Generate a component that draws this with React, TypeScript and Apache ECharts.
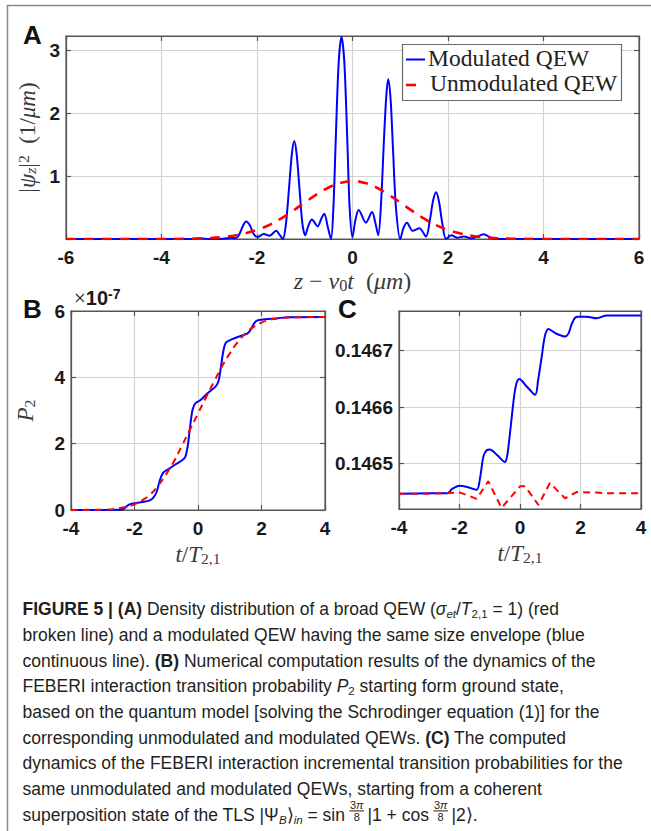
import React, { useEffect, useRef } from 'react';
import * as echarts from 'echarts';

// ---------- data ----------
// Panel A: density |psi_z|^2 vs z - v0 t
const blueA: [number, number][] = [
  [-6, 0], [-4, 0], [-3.4, 0], [-3.2, 0.012], [-3.0, 0], [-2.7, 0.005], [-2.55, 0.02], [-2.45, 0.01],
  [-2.38, 0.06], [-2.3, 0.2], [-2.23, 0.28], [-2.15, 0.22], [-2.07, 0.08], [-1.99, 0.03], [-1.86, 0.08],
  [-1.74, 0.05], [-1.6, 0.13], [-1.52, 0.06], [-1.46, 0.0], [-1.4, 0.2], [-1.33, 0.8], [-1.27, 1.35],
  [-1.22, 1.56], [-1.17, 1.35], [-1.11, 0.8], [-1.05, 0.25], [-0.99, 0.06], [-0.92, 0.22], [-0.85, 0.31],
  [-0.73, 0.2], [-0.65, 0.33], [-0.59, 0.4], [-0.52, 0.2], [-0.45, 0.0], [-0.4, 0.5], [-0.35, 1.6],
  [-0.29, 2.8], [-0.23, 3.22], [-0.17, 2.8], [-0.11, 1.6], [-0.06, 0.5], [0, 0.03], [0.06, 0.3],
  [0.13, 0.46], [0.28, 0.26], [0.41, 0.43], [0.48, 0.25], [0.54, 0.06], [0.6, 0.6], [0.66, 1.6],
  [0.71, 2.3], [0.75, 2.54], [0.8, 2.2], [0.85, 1.4], [0.91, 0.5], [1.0, 0.0], [1.07, 0.18], [1.14, 0.26],
  [1.26, 0.13], [1.4, 0.17], [1.54, 0.04], [1.62, 0.3], [1.69, 0.62], [1.75, 0.745], [1.81, 0.6],
  [1.88, 0.25], [1.96, 0.0], [2.07, 0.06], [2.19, 0.02], [2.33, 0.04], [2.5, 0.01], [2.62, 0.04],
  [2.75, 0.075], [2.87, 0.03], [2.97, 0.0], [4, 0], [6, 0],
];
const redA: [number, number][] = [
  [-6, 0], [-4, 0], [-3.5, 0.002], [-3.25, 0.007], [-3, 0.014], [-2.75, 0.028], [-2.5, 0.051],
  [-2.25, 0.089], [-2, 0.145], [-1.75, 0.22], [-1.5, 0.325], [-1.25, 0.447], [-1, 0.58], [-0.75, 0.709],
  [-0.5, 0.82], [-0.25, 0.894], [0, 0.92], [0.25, 0.894], [0.5, 0.82], [0.75, 0.709], [1, 0.58],
  [1.25, 0.447], [1.5, 0.325], [1.75, 0.22], [2, 0.145], [2.25, 0.089], [2.5, 0.051], [2.75, 0.028],
  [3, 0.014], [3.25, 0.007], [3.5, 0.002], [4, 0], [6, 0],
];
// Panel B: P2 (units of 1e-7) vs t/T21
const blueB: [number, number][] = [
  [-4, 0], [-3, 0], [-2.5, 0.01], [-2.35, 0.03], [-2.2, 0.15], [-2.05, 0.2], [-1.75, 0.24], [-1.5, 0.3],
  [-1.4, 0.38], [-1.3, 0.55], [-1.2, 0.9], [-1.1, 1.12], [-0.95, 1.22], [-0.7, 1.38], [-0.5, 1.5],
  [-0.4, 1.6], [-0.32, 1.95], [-0.25, 2.5], [-0.17, 3.03], [-0.08, 3.22], [0.06, 3.3], [0.3, 3.52],
  [0.55, 3.72], [0.65, 3.9], [0.72, 4.3], [0.8, 4.8], [0.88, 5.05], [1.1, 5.16], [1.35, 5.25],
  [1.55, 5.32], [1.65, 5.42], [1.75, 5.6], [1.85, 5.71], [2.1, 5.75], [2.5, 5.78], [2.8, 5.81], [4, 5.82],
];
const redB: [number, number][] = [
  [-4, 0], [-3, 0.01], [-2.5, 0.05], [-2.25, 0.1], [-2, 0.17], [-1.75, 0.3], [-1.5, 0.47], [-1.25, 0.74],
  [-1, 1.08], [-0.75, 1.48], [-0.5, 1.95], [-0.25, 2.43], [0, 2.91], [0.25, 3.39], [0.5, 3.86],
  [0.75, 4.32], [1, 4.72], [1.25, 5.06], [1.5, 5.33], [1.75, 5.52], [2, 5.65], [2.25, 5.73], [2.5, 5.77],
  [3, 5.81], [4, 5.82],
];
// Panel C: incremental probability vs t/T21
const blueC: [number, number][] = [
  [-4, 0.146447], [-3, 0.146448], [-2.4, 0.146448], [-2.25, 0.146455], [-2.0, 0.146461], [-1.75, 0.146459],
  [-1.43, 0.146454], [-1.32, 0.146475], [-1.21, 0.146513], [-1.1, 0.146524], [-1.0, 0.146525],
  [-0.75, 0.146515], [-0.5, 0.146503], [-0.42, 0.146515], [-0.35, 0.146545], [-0.27, 0.146584],
  [-0.18, 0.146625], [-0.1, 0.146645], [-0.02, 0.14665], [0.2, 0.146638], [0.5, 0.146622], [0.6, 0.146648],
  [0.72, 0.14669], [0.82, 0.146725], [0.94, 0.146738], [1.2, 0.14673], [1.49, 0.146725], [1.6, 0.14673],
  [1.71, 0.146747], [1.82, 0.146758], [1.93, 0.14676], [2.2, 0.14676], [2.53, 0.146757], [2.87, 0.146762],
  [3.2, 0.146762], [4, 0.146762],
];
const redC: [number, number][] = [
  [-4, 0.146447], [-3, 0.146447], [-2.5, 0.146448], [-1.98, 0.146449], [-1.43, 0.146438], [-1.05, 0.146469],
  [-0.61, 0.146422], [0, 0.14646], [0.17, 0.14646], [0.61, 0.146427], [0.99, 0.146466], [1.49, 0.146439],
  [1.87, 0.14645], [2.5, 0.146449], [2.8, 0.146448], [4, 0.146448],
];
const cTicks = [0.1465, 0.1466, 0.1467];

const legendNames = ['Modulated QEW', 'Unmodulated QEW'];

const captionLines = [
  '{b|FIGURE 5 | (A)} Density distribution of a broad QEW ({i|σ}{subi|et}/{i|T}{sub|2,1} = 1) (red',
  'broken line) and a modulated QEW having the same size envelope (blue',
  'continuous line). {b|(B)} Numerical computation results of the dynamics of the',
  'FEBERI interaction transition probability {i|P}{sub|2} starting form ground state,',
  'based on the quantum model [solving the Schrodinger equation (1)] for the',
  'corresponding unmodulated and modulated QEWs. {b|(C)} The computed',
  'dynamics of the FEBERI interaction incremental transition probabilities for the',
  'same unmodulated and modulated QEWs, starting from a coherent',
];

// ---------- styles ----------
const SANS = '"Liberation Sans", Arial, Helvetica, sans-serif';
const SERIF = '"Liberation Serif", "Times New Roman", serif';
const BLUE = '#0000ff';
const RED = '#ff0000';
const AXIS = '#555555';
const GRID = '#d2d2d2';
const NAME = '#3a3a3a';
const CAP = '#231f20';
const CAP_SIZE = 17.5;

const tickLabel = { fontFamily: SANS, fontWeight: 'bold' as const, fontSize: 19, color: '#1a1a1a' };

function nameStyle(size: number) {
  return {
    fontFamily: SERIF, fontSize: size, color: NAME, lineHeight: size,
    rich: {
      i: { fontFamily: SERIF, fontStyle: 'italic', fontSize: size, color: NAME, lineHeight: size },
      s: { fontFamily: SERIF, fontSize: size * 0.68, color: NAME, lineHeight: 10, verticalAlign: 'bottom' },
      si: { fontFamily: SERIF, fontStyle: 'italic', fontSize: size * 0.68, color: NAME, lineHeight: 10, verticalAlign: 'bottom' },
      sp: { fontFamily: SERIF, fontSize: size * 0.68, color: NAME, lineHeight: 10, verticalAlign: 'top' },
    },
  };
}

function axisLine() {
  return { show: true, onZero: false, lineStyle: { color: AXIS, width: 1.2 } };
}
function splitLine() {
  return { show: true, lineStyle: { color: GRID, width: 1.2, type: 'solid' } };
}

function xPair(grid: number, min: number, max: number, interval: number, name: string, gap: number, nameSize: number) {
  const tick = () => ({ show: true, inside: true, length: 5, lineStyle: { color: AXIS, width: 1.2 } });
  return [
    {
      type: 'value', gridIndex: grid, position: 'bottom', min, max, interval,
      axisLine: axisLine(), axisTick: tick(),
      axisLabel: { ...tickLabel, margin: 9 },
      splitLine: splitLine(),
      name, nameLocation: 'middle', nameGap: gap, nameTextStyle: nameStyle(nameSize),
    },
    {
      type: 'value', gridIndex: grid, position: 'top', min, max, interval,
      axisLine: axisLine(), axisTick: tick(), axisLabel: { show: false }, splitLine: { show: false },
    },
  ];
}

function yPair(grid: number, base: any, label: any, name: string, gap: number, nameSize: number) {
  const { customValues, ...rest } = base;
  const tick = () => ({ show: true, inside: true, length: 5, lineStyle: { color: AXIS, width: 1.2 }, ...(customValues ? { customValues } : {}) });
  return [
    {
      type: 'value', gridIndex: grid, position: 'left', ...rest,
      axisLine: axisLine(), axisTick: tick(),
      axisLabel: { ...tickLabel, margin: 6, ...label },
      splitLine: splitLine(),
      name, nameLocation: 'middle', nameGap: gap, nameRotate: 90, nameTextStyle: nameStyle(nameSize),
    },
    {
      type: 'value', gridIndex: grid, position: 'right', ...rest,
      axisLine: axisLine(), axisTick: tick(), axisLabel: { show: false }, splitLine: { show: false },
    },
  ];
}

function measure(text: string, font: string) {
  const ctx = document.createElement('canvas').getContext('2d')!;
  ctx.font = font;
  return ctx.measureText(text).width;
}

function buildCaption() {
  const rich = {
    b: { fontFamily: SANS, fontSize: CAP_SIZE, fontWeight: 'bold', fill: CAP, color: CAP, lineHeight: 22 },
    i: { fontFamily: SANS, fontSize: CAP_SIZE, fontStyle: 'italic', fill: CAP, color: CAP, lineHeight: 22 },
    sub: { fontFamily: SANS, fontSize: 11.5, fill: CAP, color: CAP, lineHeight: 12, verticalAlign: 'bottom' },
    subi: { fontFamily: SANS, fontSize: 11.5, fontStyle: 'italic', fill: CAP, color: CAP, lineHeight: 12, verticalAlign: 'bottom' },
  };
  const x0 = 22.5;
  const base0 = 615.3;
  const step = 25.7;
  const dy = 0.35 * CAP_SIZE;
  const els: any[] = captionLines.map((t, k) => ({
    type: 'text', x: x0, y: base0 + k * step - dy, z: 100,
    style: { text: t, rich, fontFamily: SANS, fontSize: CAP_SIZE, fill: CAP, align: 'left', verticalAlign: 'middle', lineHeight: 22 },
  }));
  // last line with stacked fractions
  const b9 = base0 + 8 * step;
  const fBase = `${CAP_SIZE}px "Liberation Sans"`;
  const fSubI = `italic 11.5px "Liberation Sans"`;
  const fFrac = `11px "Liberation Sans"`;
  const fFracI = `italic 11px "Liberation Sans"`;
  const w1 = measure('superposition state of the TLS |Ψ', fBase) + measure('B', fSubI) + measure('⟩', fBase)
    + measure('in', fSubI) + measure(' = sin', fBase);
  const fw = measure('3', fFrac) + measure('π', fFracI);
  const w2 = measure('|1 + cos', fBase);
  const fx1 = x0 + w1 + 5;
  const s2 = fx1 + fw + 4;
  const fx2 = s2 + w2 + 5;
  const s3 = fx2 + fw + 4;
  const baseStyle = { rich, fontFamily: SANS, fontSize: CAP_SIZE, fill: CAP, align: 'left', verticalAlign: 'middle', lineHeight: 22 };
  els.push({ type: 'text', x: x0, y: b9 - dy, z: 100, style: { ...baseStyle, text: 'superposition state of the TLS |Ψ{subi|B}⟩{subi|in} = sin' } });
  els.push({ type: 'text', x: s2, y: b9 - dy, z: 100, style: { ...baseStyle, text: '|1 + cos' } });
  els.push({ type: 'text', x: s3, y: b9 - dy, z: 100, style: { ...baseStyle, text: '|2⟩.' } });
  const fracRich = { pi: { fontFamily: SANS, fontSize: 11, fontStyle: 'italic', fill: CAP, color: CAP } };
  [fx1, fx2].forEach((fx) => {
    els.push({ type: 'text', x: fx + fw / 2, y: b9 - 15.5, z: 100, style: { text: '3{pi|π}', rich: fracRich, fontFamily: SANS, fontSize: 11, fill: CAP, align: 'center', verticalAlign: 'middle' } });
    els.push({ type: 'text', x: fx + fw / 2, y: b9 - 4, z: 100, style: { text: '8', fontFamily: SANS, fontSize: 11, fill: CAP, align: 'center', verticalAlign: 'middle' } });
    els.push({ type: 'line', z: 100, shape: { x1: fx - 0.5, y1: b9 - 10, x2: fx + fw + 0.5, y2: b9 - 10 }, style: { stroke: CAP, lineWidth: 1 } });
  });
  return els;
}

function buildOption() {
  const xAxis = [
    ...xPair(0, -6, 6, 2, '{i|z} − {i|v}{s|0}{i|t}  ({i|μm})', 30, 24),
    ...xPair(1, -4, 4, 2, '{i|t}/{i|T}{s|2,1}', 33, 23),
    ...xPair(2, -4, 4, 2, '{i|t}/{i|T}{s|2,1}', 33, 23),
  ];
  const yAxis = [
    ...yPair(0, { min: 0, max: 3.23, interval: 1 },
      { formatter: (v: number) => (v > 0 && Math.abs(v - Math.round(v)) < 1e-9 ? String(v) : '') },
      '|{i|ψ}{si|z}|{sp|2}  (1/{i|μm})', 22, 23),
    ...yPair(1, { min: 0, max: 6, interval: 2 }, {}, '{i|P}{s|2}', 34, 23),
    ...yPair(2, { min: 0.14642, max: 0.14677, customValues: cTicks },
      { customValues: cTicks, formatter: (v: number) => v.toFixed(4) }, '', 0, 22),
  ];
  const lineCommon = { type: 'line', showSymbol: false, symbol: 'none', silent: true };
  const series = [
    { ...lineCommon, name: legendNames[0], xAxisIndex: 0, yAxisIndex: 0, data: blueA, smooth: 0.3, lineStyle: { color: BLUE, width: 2 }, z: 3 },
    { ...lineCommon, name: legendNames[1], xAxisIndex: 0, yAxisIndex: 0, data: redA, smooth: true, lineStyle: { color: RED, width: 2.6, type: [10, 8] }, z: 4 },
    { ...lineCommon, name: legendNames[0], xAxisIndex: 2, yAxisIndex: 2, data: blueB, smooth: 0.3, lineStyle: { color: BLUE, width: 2 }, z: 3 },
    { ...lineCommon, name: legendNames[1], xAxisIndex: 2, yAxisIndex: 2, data: redB, smooth: true, lineStyle: { color: RED, width: 2, type: [7, 5] }, z: 4 },
    { ...lineCommon, name: legendNames[0], xAxisIndex: 4, yAxisIndex: 4, data: blueC, smooth: 0.3, lineStyle: { color: BLUE, width: 2 }, z: 3 },
    { ...lineCommon, name: legendNames[1], xAxisIndex: 4, yAxisIndex: 4, data: redC, smooth: false, lineStyle: { color: RED, width: 2, type: [7, 5] }, z: 4 },
  ];
  const graphic: any[] = [
    { type: 'rect', z: 1, shape: { x: 7.5, y: 5.5, width: 700, height: 900 }, style: { fill: 'transparent', stroke: '#8a8a8a', lineWidth: 1.5 } },
    { type: 'text', x: 23, y: 22, z: 100, style: { text: 'A', fontFamily: SANS, fontWeight: 'bold', fontSize: 26, fill: '#111', align: 'left', verticalAlign: 'top' } },
    { type: 'text', x: 23, y: 296, z: 100, style: { text: 'B', fontFamily: SANS, fontWeight: 'bold', fontSize: 26, fill: '#111', align: 'left', verticalAlign: 'top' } },
    { type: 'text', x: 338, y: 296, z: 100, style: { text: 'C', fontFamily: SANS, fontWeight: 'bold', fontSize: 26, fill: '#111', align: 'left', verticalAlign: 'top' } },
    {
      type: 'text', x: 74, y: 298, z: 100,
      style: {
        text: '{x|×}{n|10}{s|-7}', align: 'left', verticalAlign: 'middle', lineHeight: 22,
        rich: {
          x: { fontFamily: SERIF, fontSize: 21, fill: '#1a1a1a', color: '#1a1a1a', lineHeight: 22 },
          n: { fontFamily: SANS, fontWeight: 'bold', fontSize: 20, fill: '#1a1a1a', color: '#1a1a1a', lineHeight: 22 },
          s: { fontFamily: SANS, fontWeight: 'bold', fontSize: 14, fill: '#1a1a1a', color: '#1a1a1a', lineHeight: 12, verticalAlign: 'top' },
        },
      },
    },
    // legend of panel A
    { type: 'rect', z: 50, shape: { x: 402.5, y: 44.5, width: 219, height: 56 }, style: { fill: '#fff', stroke: '#6a6a6a', lineWidth: 1.2 } },
    { type: 'line', z: 51, shape: { x1: 406, y1: 59.5, x2: 425, y2: 59.5 }, style: { stroke: BLUE, lineWidth: 2 } },
    { type: 'line', z: 51, shape: { x1: 406, y1: 85, x2: 416, y2: 85 }, style: { stroke: RED, lineWidth: 2.6 } },
    { type: 'text', z: 51, x: 428, y: 57.5, style: { text: legendNames[0], fontFamily: SERIF, fontSize: 23.5, fill: '#222', align: 'left', verticalAlign: 'middle' } },
    { type: 'text', z: 51, x: 430, y: 83, style: { text: legendNames[1], fontFamily: SERIF, fontSize: 23.5, fill: '#222', align: 'left', verticalAlign: 'middle' } },
    ...buildCaption(),
  ];
  const gridBox = { show: true, borderColor: AXIS, borderWidth: 1.2, backgroundColor: 'transparent' };
  return {
    animation: false,
    backgroundColor: '#ffffff',
    grid: [
      { ...gridBox, left: 66, top: 36, width: 573, height: 203 },
      { ...gridBox, left: 71, top: 311, width: 254, height: 199 },
      { ...gridBox, left: 399, top: 311, width: 242, height: 198 },
    ],
    xAxis,
    yAxis,
    series,
    graphic,
  };
}

export default function App() {
  const ref = useRef<HTMLDivElement>(null);
  useEffect(() => {
    if (!ref.current) return;
    const chart = echarts.init(ref.current, null, { renderer: 'svg' });
    chart.setOption(buildOption() as any);
    return () => chart.dispose();
  }, []);
  return <div ref={ref} style={{ position: 'absolute', left: 0, top: 0, width: 651, height: 831, background: '#fff' }} />;
}
